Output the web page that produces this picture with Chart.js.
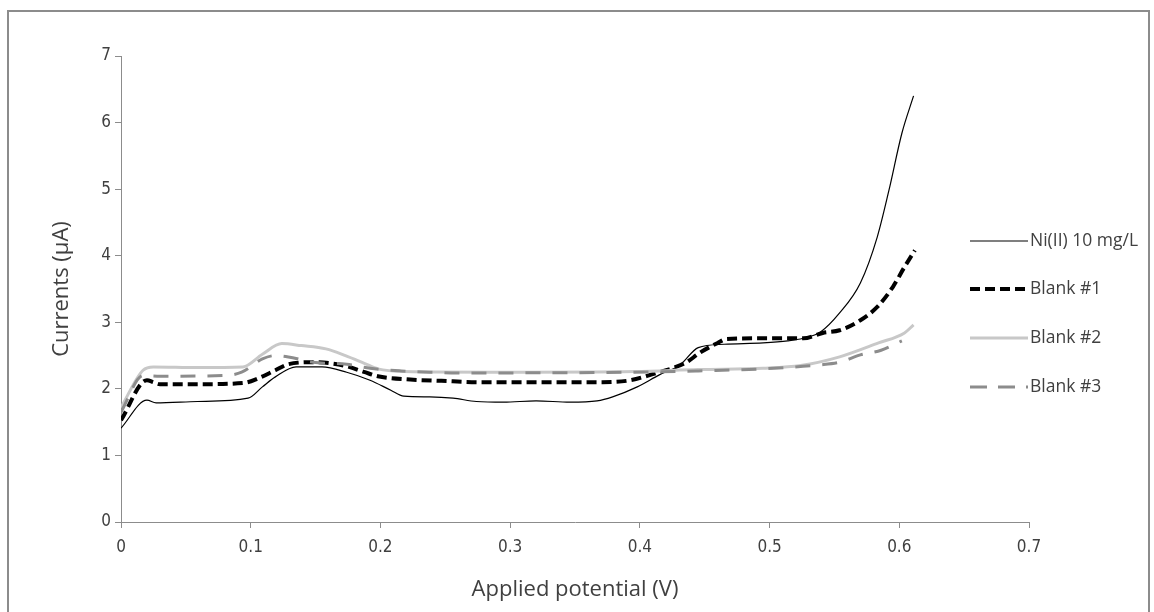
<!DOCTYPE html>
<html>
<head>
<meta charset="utf-8">
<script src="https://cdn.jsdelivr.net/npm/chart.js@4.4.1/dist/chart.umd.min.js"></script>
<style>
  html, body { margin: 0; padding: 0; background: #fff; }
  #wrap { position: relative; width: 1154px; height: 612px; overflow: hidden; }
  #frame { position: absolute; left: 7px; top: 10px; width: 1143px; height: 640px; border: 2px solid #8c8c8c; box-sizing: border-box; }
  canvas { position: absolute; left: 0; top: 0; }
</style>
</head>
<body>
<div id="wrap">
  <div id="frame"></div>
  <canvas id="myChart1" width="1154" height="612"></canvas>
</div>
<script>
// data ============================================================
const seriesNames = ["Ni(II) 10 mg/L", "Blank #1", "Blank #2", "Blank #3"];

const niX = [0, 0.02, 0.027, 0.059, 0.098, 0.109, 0.119, 0.135, 0.155, 0.174, 0.192, 0.208, 0.218, 0.238, 0.256, 0.274, 0.295, 0.32, 0.346, 0.367, 0.379, 0.398, 0.415, 0.431, 0.445, 0.465, 0.495, 0.514, 0.526, 0.539, 0.554, 0.57, 0.583, 0.592, 0.602, 0.611];
const niY = [1.41, 1.83, 1.79, 1.81, 1.86, 2.03, 2.18, 2.33, 2.33, 2.25, 2.13, 1.98, 1.89, 1.88, 1.86, 1.81, 1.80, 1.82, 1.80, 1.82, 1.88, 2.03, 2.21, 2.36, 2.62, 2.67, 2.69, 2.72, 2.76, 2.85, 3.14, 3.59, 4.28, 4.98, 5.84, 6.40];

const blank1X = [0, 0.02, 0.025, 0.03, 0.059, 0.095, 0.106, 0.119, 0.129, 0.148, 0.163, 0.174, 0.188, 0.198, 0.223, 0.247, 0.277, 0.297, 0.371, 0.393, 0.413, 0.425, 0.436, 0.446, 0.46, 0.467, 0.495, 0.526, 0.541, 0.554, 0.57, 0.583, 0.595, 0.604, 0.612];
const blank1Y = [1.53, 2.13, 2.10, 2.07, 2.07, 2.09, 2.16, 2.28, 2.37, 2.40, 2.38, 2.34, 2.25, 2.19, 2.14, 2.12, 2.10, 2.10, 2.10, 2.13, 2.24, 2.31, 2.40, 2.54, 2.69, 2.75, 2.76, 2.76, 2.84, 2.88, 3.03, 3.23, 3.53, 3.83, 4.08];

const blank2X = [0, 0.017, 0.025, 0.059, 0.094, 0.109, 0.124, 0.139, 0.158, 0.173, 0.188, 0.198, 0.218, 0.297, 0.396, 0.445, 0.495, 0.524, 0.554, 0.584, 0.604, 0.611];
const blank2Y = [1.72, 2.28, 2.33, 2.32, 2.33, 2.52, 2.68, 2.65, 2.60, 2.50, 2.38, 2.30, 2.26, 2.25, 2.26, 2.29, 2.31, 2.35, 2.48, 2.69, 2.84, 2.96];

const blank3X = [0, 0.017, 0.03, 0.079, 0.093, 0.109, 0.119, 0.129, 0.148, 0.174, 0.192, 0.216, 0.238, 0.259, 0.297, 0.396, 0.445, 0.495, 0.539, 0.554, 0.57, 0.586, 0.602];
const blank3Y = [1.65, 2.20, 2.19, 2.20, 2.25, 2.45, 2.50, 2.48, 2.40, 2.37, 2.31, 2.27, 2.25, 2.24, 2.24, 2.25, 2.27, 2.30, 2.36, 2.40, 2.51, 2.58, 2.72];

const xTicks = [0, 0.1, 0.2, 0.3, 0.4, 0.5, 0.6, 0.7];
const yTicks = [0, 1, 2, 3, 4, 5, 6, 7];

function pts(xs, ys) {
  return xs.map(function (x, i) { return { x: x, y: ys[i] }; });
}

// styles for the 4 lines
const lineStyles = [
  { color: "#000000", width: 1.2, dash: [] },
  { color: "#000000", width: 4, dash: [10, 5] },
  { color: "#c8c8c8", width: 3, dash: [] },
  { color: "#8c8c8c", width: 3, dash: [15, 12] },
];

const seriesData = [pts(niX, niY), pts(blank1X, blank1Y), pts(blank2X, blank2Y), pts(blank3X, blank3Y)];

const datasets = seriesNames.map(function (name, i) {
  return {
    label: name,
    data: seriesData[i],
    borderColor: lineStyles[i].color,
    borderWidth: lineStyles[i].width,
    borderDash: lineStyles[i].dash,
    pointRadius: 0,
    cubicInterpolationMode: "monotone",
    fill: false,
    order: 4 - i,
  };
});

// legend drawn on top of the plot, like the excel one
const sideLegend = {
  id: "sideLegend",
  afterDraw: function (chart) {
    const ctx = chart.ctx;
    const rows = [241, 289, 338, 387];
    ctx.save();
    seriesNames.forEach(function (name, i) {
      const st = lineStyles[i];
      ctx.beginPath();
      ctx.strokeStyle = st.color;
      ctx.lineWidth = st.width;
      ctx.setLineDash(i === 3 ? [17, 11] : st.dash);
      ctx.moveTo(970, rows[i]);
      ctx.lineTo(1028, rows[i]);
      ctx.stroke();
      ctx.setLineDash([]);
      ctx.fillStyle = "#404040";
      ctx.font = "17.5px 'Open Sans'";
      ctx.textBaseline = "middle";
      ctx.textAlign = "left";
      ctx.fillText(name, 1030, rows[i]);
    });
    ctx.restore();
  },
};

const config = {
  type: "line",
  data: { datasets: datasets },
  options: {
    responsive: false,
    animation: false,
    layout: { padding: { left: 0, top: 56, right: 125, bottom: 0 } },
    plugins: {
      legend: { display: false },
      tooltip: { enabled: false },
    },
    scales: {
      x: {
        type: "linear",
        min: 0,
        max: 0.7,
        afterBuildTicks: function (scale) {
          scale.ticks = xTicks.map(function (v) { return { value: v }; });
        },
        afterFit: function (scale) { scale.height = 90; },
        grid: { drawOnChartArea: false, drawTicks: true, tickLength: 6, color: "#8c8c8c" },
        border: { display: true, color: "#8c8c8c", width: 1 },
        ticks: {
          color: "#404040",
          padding: 9,
          maxRotation: 0,
          font: { family: "'Liberation Sans Narrow', 'DejaVu Sans Condensed', sans-serif", size: 17 },
          callback: function (v) { return String(Number(v.toFixed(1))); },
        },
        title: {
          display: true,
          text: "Applied potential (V)",
          color: "#404040",
          font: { family: "'Open Sans', sans-serif", size: 22 },
          padding: { top: 0, bottom: 9 },
        },
      },
      y: {
        min: 0,
        max: 7,
        afterBuildTicks: function (scale) {
          scale.ticks = yTicks.map(function (v) { return { value: v }; });
        },
        afterFit: function (scale) { scale.width = 121; },
        grid: { drawOnChartArea: false, drawTicks: true, tickLength: 6, color: "#8c8c8c" },
        border: { display: true, color: "#8c8c8c", width: 1 },
        ticks: {
          color: "#404040",
          padding: 4,
          font: { family: "'Liberation Sans Narrow', 'DejaVu Sans Condensed', sans-serif", size: 17 },
        },
        title: {
          display: true,
          text: "Currents (µA)",
          color: "#404040",
          font: { family: "'Open Sans', sans-serif", size: 22 },
          padding: { top: 49, bottom: 0 },
        },
      },
    },
  },
  plugins: [sideLegend],
};

const myChart = new Chart(document.getElementById("myChart1"), config);
</script>
</body>
</html>
